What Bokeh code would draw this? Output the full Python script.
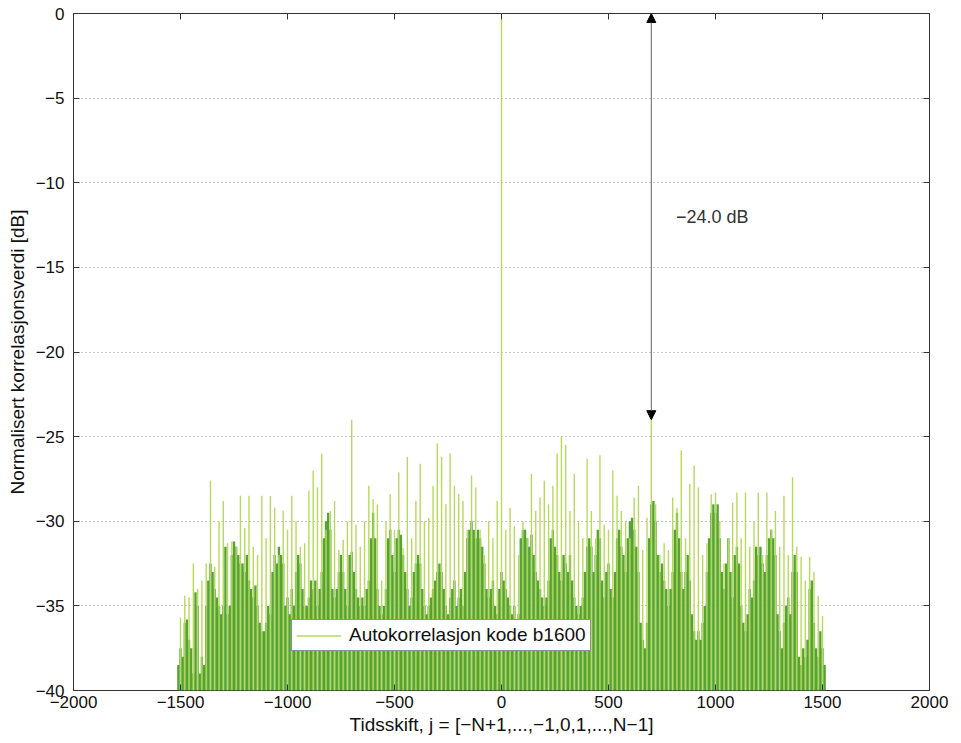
import numpy as np
from bokeh.plotting import figure
from bokeh.models import (Range1d, FixedTicker, LinearAxis, Arrow, NormalHead,
                          Label, Legend, LegendItem, ColumnDataSource)
from bokeh.embed import file_html
from bokeh.resources import INLINE

# ---------------- data ----------------
x_ticks = [-2000, -1500, -1000, -500, 0, 500, 1000, 1500, 2000]
y_ticks = [-40, -35, -30, -25, -20, -15, -10, -5, 0]

# dense (dark green) part of the correlation profile, one value every 10 lags
dark_lag = list(range(-1510, 1511, 10))
dark_db = [
    -38.5, -37.5, -38, -36, -35.8, -37, -37.5, -39, -34.2, -35,
    -39, -38, -38.5, -35, -33.5, -32.5, -33, -34, -34.5, -35,
    -35.5, -35, -31.5, -35.5, -35, -32, -31.2, -31.5, -32, -32.5,
    -32.5, -33, -32, -33.5, -34, -34.5, -33.8, -35, -36, -36.5,
    -36.5, -36, -35, -35.5, -33, -32, -32.5, -31.5, -32, -32.5,
    -35, -34.5, -35.5, -34, -35, -33, -32, -32.5, -34, -35,
    -35, -34.5, -33.5, -34, -33.5, -35, -34, -33, -31, -30,
    -29.5, -30.5, -34, -34.5, -34, -33, -32, -33, -34, -35,
    -32, -31.8, -33, -34, -34.5, -35, -34.5, -35, -34, -33.5,
    -31, -29.5, -31, -34, -35, -35.5, -35, -34, -31, -30.5,
    -32, -33, -31, -30.5, -30.8, -32, -33, -34, -35, -34.5,
    -33, -32.5, -32, -32.5, -34, -35, -35.5, -35, -34.5, -34,
    -33.5, -33, -32.5, -33, -34, -35, -35.5, -34.5, -34, -33.5,
    -35, -34.5, -34, -35, -33, -31, -30.5, -30, -30.5, -31,
    -30.5, -31, -31.5, -32.5, -34, -34.5, -34, -33.5, -35, -35.5,
    -34, -33, -33.5, -34, -34.5, -35, -35.5, -35, -36, -35.5,
    -31, -30.5, -30.5, -31, -31.5, -30.8, -32, -33, -33.5, -34,
    -34.5, -35, -34.5, -33.5, -31, -30.5, -31.5, -32, -33, -33.5,
    -32, -32.5, -33, -32, -33.5, -34.5, -35, -35.5, -35, -34.5,
    -33, -31.5, -31, -31.5, -33, -32, -30.5, -31, -33.5, -34.5,
    -33, -32.5, -34, -34.5, -33, -31, -30.5, -31.5, -32, -33,
    -31, -30, -29.8, -30.5, -31.5, -33, -36, -37, -37.5, -36,
    -31, -29, -28.8, -30, -32, -33, -32.5, -33.5, -34, -35,
    -34, -33, -30.5, -29.5, -31, -33, -34, -33, -32, -33.5,
    -35.5, -36.5, -37, -36.5, -37, -36, -35, -33, -31, -29.5,
    -29, -29.5, -29, -31, -33, -34, -32.5, -31, -33, -34.5,
    -32, -31.5, -32.5, -35, -36, -36.5, -35.5, -34, -34.5, -33.5,
    -31.5, -32, -31.5, -32.5, -33, -32, -31, -30.5, -31, -32,
    -35.5, -36.5, -37.5, -36, -35, -34.5, -35.5, -33, -32, -33,
    -38, -38.5, -37.5, -38, -37, -34, -33.5, -36, -37.5, -38,
    -36.5, -37.5, -38.5,
]

# individual (light green) correlation peaks, one every 20 lags
light_lag = list(range(-1500, 1501, 20))
light_db = [
    -35.7, -34.4, -34.5, -32.5, -34, -33.5, -32.5, -27.6, -32.7, -30,
    -28.8, -31.3, -31.2, -31.5, -28.5, -30.4, -28.5, -31.5, -32, -28.5,
    -31, -28.5, -29.2, -32, -29.4, -30.5, -28.5, -30, -31.5, -31.3,
    -28.2, -27.0, -28, -26.0, -30.5, -29.4, -28.8, -31.7, -31.1, -30,
    -24.0, -30.2, -31.5, -30, -27.9, -28.7, -29, -33.5, -30, -28.4,
    -30.5, -27.1, -31.6, -26.2, -31, -28.8, -26.6, -30, -29.8, -27.9,
    -25.4, -26.2, -29, -26, -27.9, -28.4, -28.8, -30.5, -27.3, -28,
    -30.5, -32, -30, -31, -28.8,
    0.0,
    -30.5, -29.2, -30.3, -32, -30, -31, -27.2, -29.4, -28.6, -27.6,
    -29, -27.9, -26.0, -25.0, -25.5, -29.4, -27.2, -30, -31, -26.3,
    -29.4, -31, -26.1, -30.2, -30.5, -27.0, -28.5, -29.4, -30, -31,
    -28.6, -27.9, -31.7, -29.8, -24.0, -29, -32, -31.3, -31.7, -28.6,
    -29.2, -25.8, -31, -27.8, -26.7, -28, -32, -31.3, -28.4, -28.3,
    -30, -32.5, -31, -28.9, -28.3, -31, -28.3, -31.5, -30, -28.3,
    -32, -28.3, -30.5, -29.4, -31.5, -28.5, -32, -27.4, -31.5, -32.1,
    -33.5, -32.1, -33, -34.4, -35.6,
]

floor_db = y_ticks[0]
label_text = "Autokorrelasjon kode b1600"

# ---------------- figure ----------------
FONT = "Liberation Sans"
p = figure(width=961, height=743, x_range=Range1d(-2000, 2000), y_range=Range1d(-40, 0),
           output_backend="svg", toolbar_location=None,
           min_border_left=73, min_border_right=32, min_border_top=13, min_border_bottom=53,
           background_fill_color="white", border_fill_color="white")
p.outline_line_color = "#333333"
p.outline_line_width = 1

def minus(v):
    return str(v).replace("-", "\u2212")

for ax in (p.xaxis[0], p.yaxis[0]):
    ax.major_tick_in = 6
    ax.major_tick_out = 0
    ax.minor_tick_line_color = None
    ax.axis_line_color = None
    ax.major_tick_line_color = "#333333"
    ax.major_label_text_font = FONT
    ax.major_label_text_font_size = "17px"
    ax.major_label_text_color = "#111111"
    ax.axis_label_text_font = FONT
    ax.axis_label_text_font_size = "19px"
    ax.axis_label_text_font_style = "normal"
    ax.axis_label_text_color = "#111111"

p.xaxis[0].ticker = FixedTicker(ticks=x_ticks)
p.xaxis[0].major_label_overrides = {t: minus(t) for t in x_ticks}
p.xaxis[0].major_label_standoff = 5
p.xaxis[0].axis_label = "Tidsskift, j = [\u2212N+1,...,\u22121,0,1,...,N\u22121]"
p.xaxis[0].axis_label_standoff = 3

p.yaxis[0].ticker = FixedTicker(ticks=y_ticks)
p.yaxis[0].major_label_overrides = {t: minus(t) for t in y_ticks}
p.yaxis[0].major_label_standoff = 9
p.yaxis[0].axis_label = "Normalisert korrelasjonsverdi [dB]"
p.yaxis[0].axis_label_standoff = 5

for loc, tk in (("above", x_ticks), ("right", y_ticks)):
    a = LinearAxis(ticker=FixedTicker(ticks=tk), major_tick_in=6, major_tick_out=0,
                   minor_tick_line_color=None, axis_line_color=None,
                   major_tick_line_color="#333333", major_label_text_font_size="0px",
                   major_label_standoff=0)
    p.add_layout(a, loc)

p.xgrid.visible = False
p.ygrid.ticker = FixedTicker(ticks=y_ticks)
p.ygrid.grid_line_color = "#8a8a8a"
p.ygrid.grid_line_dash = "1 3"
p.ygrid.grid_line_width = 1

dark_src = ColumnDataSource(dict(x=dark_lag, top=dark_db))
p.vbar(x="x", top="top", bottom=floor_db, width=11, source=dark_src,
       fill_color="#55a336", line_color=None)

light_src = ColumnDataSource(dict(x=light_lag, y=light_db))
light_r = p.segment(x0="x", y0=floor_db, x1="x", y1="y", source=light_src,
                    line_color="#b8da5c", line_width=1.4)

# arrow to the highest side lobe
side = [(d, l) for l, d in zip(light_lag, light_db) if l != 0]
side_db = max(d for d, l in side)
side_lag = max(l for d, l in side if d == side_db)
main_db = max(light_db)
p.add_layout(Arrow(start=NormalHead(size=9, fill_color="black", line_color="black"),
                   end=NormalHead(size=9, fill_color="black", line_color="black"),
                   x_start=side_lag, y_start=main_db, x_end=side_lag, y_end=side_db,
                   line_color="#666666", line_width=1))
p.add_layout(Label(x=side_lag + 115, y=(main_db + side_db) / 2,
                   text=minus(f"{side_db - main_db:.1f}") + " dB",
                   text_font=FONT, text_font_size="18px", text_color="#333333",
                   text_baseline="middle"))

legend = Legend(items=[LegendItem(label=label_text, renderers=[light_r])],
                location=(218, 39), padding=4, margin=0, spacing=0,
                glyph_width=45, glyph_height=19, label_height=19, label_standoff=8,
                label_text_font=FONT, label_text_font_size="19px", label_text_color="#111111",
                border_line_color="#222222", border_line_width=1,
                background_fill_color="white", background_fill_alpha=1.0)
p.add_layout(legend)

open("out.html", "w").write(file_html(p, INLINE))
